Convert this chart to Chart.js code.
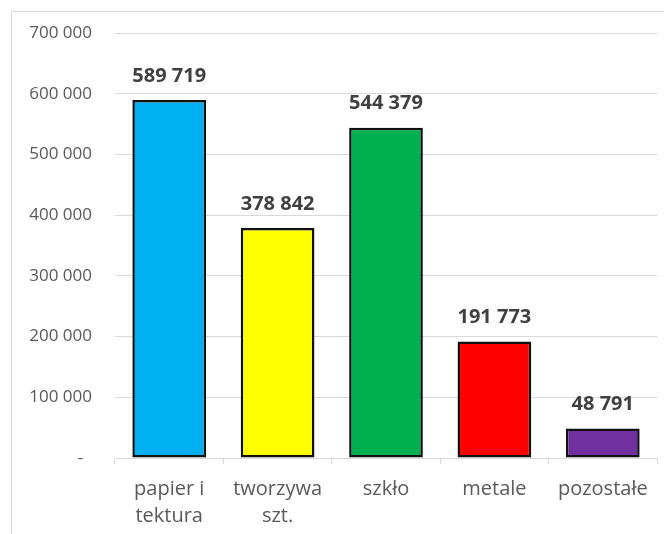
<!DOCTYPE html>
<html>
<head>
<meta charset="utf-8">
<script src="https://cdn.jsdelivr.net/npm/chart.js@4.4.0/dist/chart.umd.min.js"></script>
<style>
  html, body { margin: 0; padding: 0; background: #fff; }
  #wrap { position: relative; width: 664px; height: 534px; overflow: hidden; }
  #frame { position: absolute; left: 11px; top: 11px; width: 700px; height: 600px;
           border: 1px solid #d9d9d9; box-sizing: border-box; }
  canvas { position: absolute; left: 0; top: 0; }
</style>
</head>
<body>
<div id="wrap">
  <div id="frame"></div>
  <canvas id="chart" width="664" height="534"></canvas>
</div>
<script>
'use strict';

// ── Data ──────────────────────────────────────────────────────────────
const categories = [['papier i', 'tektura'], ['tworzywa', 'szt.'], 'szkło', 'metale', 'pozostałe'];
const values = [589719, 378842, 544379, 191773, 48791];
const barColors = ['#00B0F0', '#FFFF00', '#00B050', '#FF0000', '#7030A0'];
const yMax = 700000;
const yStep = 100000;

const FONT = "'Open Sans', 'Liberation Sans', sans-serif";

function fmtNum(v) {
  if (v === 0) return '-  ';
  return String(v).replace(/\B(?=(\d{3})+(?!\d))/g, ' ');
}

// ── Value labels above bars ───────────────────────────────────────────
const valueLabels = {
  id: 'valueLabels',
  afterDatasetsDraw(chart) {
    const ctx = chart.ctx;
    const meta = chart.getDatasetMeta(0);
    ctx.save();
    ctx.font = `bold 20px ${FONT}`;
    ctx.fillStyle = '#404040';
    ctx.textAlign = 'center';
    ctx.textBaseline = 'middle';
    meta.data.forEach((bar, i) => {
      ctx.fillText(fmtNum(values[i]), bar.x, bar.y - 24);
    });
    ctx.restore();
  },
};

new Chart(document.getElementById('chart'), {
  type: 'bar',
  data: {
    labels: categories,
    datasets: [{
      data: values,
      backgroundColor: barColors,
      borderColor: '#111',
      borderWidth: 2.5,
      borderSkipped: false,
      barPercentage: 0.68,
      categoryPercentage: 1,
    }],
  },
  options: {
    responsive: false,
    animation: false,
    devicePixelRatio: 1,
    layout: { padding: { left: 0, right: 7, top: 32, bottom: 0 } },
    plugins: { legend: { display: false }, tooltip: { enabled: false } },
    scales: {
      x: {
        afterFit: s => { s.height = 76; },
        grid: { offset: true, drawOnChartArea: false, drawTicks: true, tickLength: 6, color: '#d9d9d9' },
        border: { color: '#d9d9d9' },
        ticks: { color: '#595959', font: { family: FONT, size: 20, lineHeight: 1.35 }, padding: 12, maxRotation: 0 },
      },
      y: {
        min: 0, max: yMax,
        afterFit: s => { s.width = 115; },
        grid: { color: '#d9d9d9', drawTicks: false },
        border: { display: false },
        ticks: {
          stepSize: yStep,
          color: '#595959',
          padding: 23,
          font: { family: FONT, size: 17 },
          callback: v => fmtNum(v),
        },
      },
    },
  },
  plugins: [valueLabels],
});
</script>
</body>
</html>
